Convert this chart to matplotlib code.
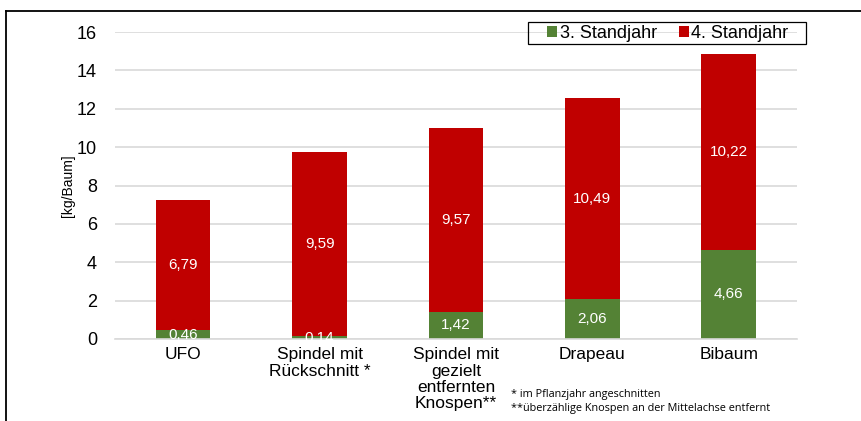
import matplotlib
matplotlib.use("Agg")
import matplotlib.pyplot as plt
from matplotlib.lines import Line2D
from matplotlib.patches import Rectangle
import numpy as np

plt.rcParams["font.family"] = ["Liberation Sans", "DejaVu Sans"]

# Daten
kategorien = ["UFO", "Spindel mit\nRückschnitt *", "Spindel mit\ngezielt\nentfernten\nKnospen**",
              "Drapeau", "Bibaum"]
jahr3 = [0.46, 0.14, 1.42, 2.06, 4.66]
jahr4 = [6.79, 9.59, 9.57, 10.49, 10.22]
serien = ["3. Standjahr", "4. Standjahr"]
farben = ["#548235", "#C00000"]
yticks = [0, 2, 4, 6, 8, 10, 12, 14, 16]
fussnoten = ["* im Pflanzjahr angeschnitten",
             "**überzählige Knospen an der Mittelachse entfernt"]

W, H = 861, 421
fig = plt.figure(figsize=(W / 100, H / 100), dpi=100)
ax = fig.add_axes([0.1336, 0.1948, 0.792, 0.729])

x = np.arange(len(kategorien))
b1 = ax.bar(x, jahr3, width=0.4, color=farben[0], label=serien[0], zorder=2)
b2 = ax.bar(x, jahr4, width=0.4, bottom=jahr3, color=farben[1], label=serien[1], zorder=2)

def fmt(v):
    return f"{v:.2f}".replace(".", ",")

ax.bar_label(b1, labels=[fmt(v) for v in jahr3], label_type="center",
             color="white", fontsize=11, zorder=3)
ax.bar_label(b2, labels=[fmt(v) for v in jahr4], label_type="center",
             color="white", fontsize=11, zorder=3)

ax.set_xlim(-0.5, len(kategorien) - 0.5)
ax.set_ylim(0, 16)
ax.set_yticks(yticks)
ax.set_yticklabels([str(t) for t in yticks], fontsize=13)
ax.set_xticks(x)
ax.set_xticklabels(kategorien, fontsize=12.5, linespacing=1.1)
ax.tick_params(axis="y", length=0, pad=13)
ax.tick_params(axis="x", length=0, pad=6)
ax.yaxis.grid(True, color="#d9d9d9", linewidth=1.2, zorder=0)
ax.set_axisbelow(True)
for s in ["top", "right", "left"]:
    ax.spines[s].set_visible(False)
ax.spines["bottom"].set_color("#d9d9d9")
ax.spines["bottom"].set_linewidth(1.2)
ax.set_ylabel("[kg/Baum]", fontsize=10, labelpad=1)

# Legende ohne eigenen Rahmen, Rahmen separat (528..806 px, 22..44 px)
leg = ax.legend(loc="center", bbox_to_anchor=(668 / W, 1 - 33 / H),
                bbox_transform=fig.transFigure, ncol=2, fontsize=13, frameon=False,
                handlelength=0.55, handleheight=0.55, handletextpad=0.12,
                columnspacing=1.25, borderpad=0.1, borderaxespad=0)
fig.add_artist(Rectangle((528 / W, 1 - 44 / H), 278 / W, 22 / H, fill=False,
                         edgecolor="black", lw=0.9, transform=fig.transFigure))

for i, t in enumerate(fussnoten):
    fig.text(0.594, 1 - (395 + 13 * i) / H, t, fontsize=7.8, family=["Open Sans", "DejaVu Sans"],
             va="center", ha="left")

# Rahmen
fig.add_artist(Line2D([6 / W, 1.0], [1 - 11 / H, 1 - 11 / H], color="black", lw=1.3,
                      transform=fig.transFigure))
fig.add_artist(Line2D([6 / W, 6 / W], [0, 1 - 11 / H], color="black", lw=1.3,
                      transform=fig.transFigure))

fig.savefig("out.png", dpi=100)
